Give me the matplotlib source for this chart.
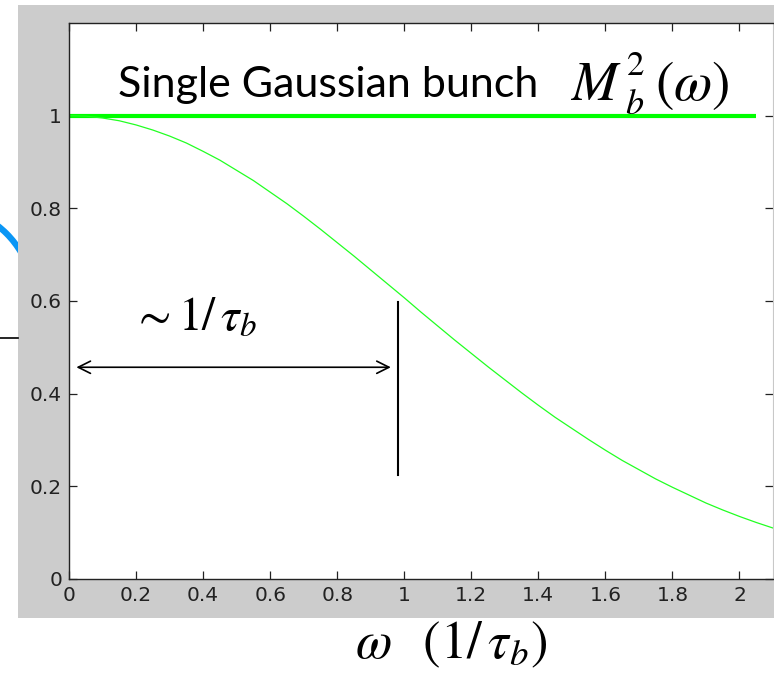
import matplotlib
matplotlib.use("Agg")
import matplotlib.pyplot as plt
from matplotlib.patches import Rectangle, Arc

# form factor of a single gaussian bunch
omega = [0.00, 0.05, 0.10, 0.15, 0.20, 0.25, 0.30, 0.35, 0.40, 0.45, 0.50,
         0.55, 0.60, 0.65, 0.70, 0.75, 0.80, 0.85, 0.90, 0.95, 1.00,
         1.05, 1.10, 1.15, 1.20, 1.25, 1.30, 1.35, 1.40, 1.45, 1.50,
         1.55, 1.60, 1.65, 1.70, 1.75, 1.80, 1.85, 1.90, 1.95, 2.00,
         2.05, 2.10]
m2 = [1.000, 0.999, 0.995, 0.989, 0.980, 0.969, 0.956, 0.941, 0.923, 0.904, 0.882,
      0.860, 0.835, 0.810, 0.783, 0.755, 0.726, 0.697, 0.667, 0.637, 0.607,
      0.576, 0.546, 0.516, 0.487, 0.458, 0.430, 0.402, 0.375, 0.349, 0.325,
      0.301, 0.278, 0.256, 0.236, 0.216, 0.198, 0.181, 0.164, 0.149, 0.135,
      0.122, 0.110]

# the flat line (point-like bunch)
flat_x = [0.0, 2.05]
flat_y = [1.0, 1.0]

xticks = [0, 0.2, 0.4, 0.6, 0.8, 1, 1.2, 1.4, 1.6, 1.8, 2]
xticklabels = ['0', '0.2', '0.4', '0.6', '0.8', '1', '1.2', '1.4', '1.6', '1.8', '2']
yticks = [0, 0.2, 0.4, 0.6, 0.8, 1]
yticklabels = ['0', '0.2', '0.4', '0.6', '0.8', '1']

plt.rcParams['mathtext.fontset'] = 'stix'

fig = plt.figure(figsize=(7.74, 6.76), dpi=100)
fig.patch.set_facecolor('white')

# slide background bits, in pixel coordinates
bg = fig.add_axes([0, 0, 1, 1], zorder=0)
bg.set_xlim(0, 774)
bg.set_ylim(676, 0)
bg.axis('off')
bg.add_patch(Arc((-60, 300), 188, 188, theta1=-75, theta2=-15,
                 color='#0a96f5', lw=4.5))
bg.plot([0, 18], [338, 338], color='black', lw=1.2)
bg.add_patch(Rectangle((18, 5), 760, 613, facecolor='#cccccc', edgecolor='none'))
px = bg.transData

ax = fig.add_axes([69 / 774, 97 / 676, 704 / 774, 556 / 676], zorder=1)
ax.set_facecolor('white')
ax.plot(flat_x, flat_y, color='#00ff00', lw=3.0, solid_capstyle='butt')
ax.plot(omega, m2, color='#22ff22', lw=0.9)

ax.set_xlim(0, 2.1)
ax.set_ylim(0, 1.2)
ax.set_xticks(xticks)
ax.set_xticklabels(xticklabels)
ax.set_yticks(yticks)
ax.set_yticklabels(yticklabels)
ax.tick_params(direction='in', length=5.5, width=0.9, top=True, right=True,
               labelsize=14.5, labelcolor='#222222', color='#222222', pad=5)
for side in ['left', 'bottom', 'top']:
    ax.spines[side].set_color('#222222')
    ax.spines[side].set_linewidth(1.0)
ax.spines['right'].set_color('#c8c8c8')

# annotations (pixel positions on the slide)
ax.text(118, 97, 'Single Gaussian bunch', fontsize=31, family='Lato',
        va='baseline', ha='left', transform=px, clip_on=False)
ax.text(570, 100, r'$M$', fontsize=40, va='baseline', ha='left', transform=px, clip_on=False)
ax.text(626, 75, r'$2$', fontsize=25, va='baseline', ha='left', transform=px, clip_on=False)
ax.text(625, 114, r'$b$', fontsize=26, va='baseline', ha='left', transform=px, clip_on=False)
ax.text(655, 100, r'$(\omega)$', fontsize=40, va='baseline', ha='left', transform=px, clip_on=False)

ax.text(132, 330, r'$\sim 1/\,\tau_b$', fontsize=34, va='baseline', ha='left',
        transform=px, clip_on=False)
ax.annotate('', xy=(0.022, 0.457), xytext=(0.960, 0.457),
            arrowprops=dict(arrowstyle='<->', color='black', lw=1.2,
                            mutation_scale=22, shrinkA=0, shrinkB=0))
ax.plot([0.982, 0.982], [0.224, 0.597], color='black', lw=1.5)

ax.text(355, 658, r'$\omega\;\;\;(1/\,\tau_b)$', fontsize=38, va='baseline',
        ha='left', transform=px, clip_on=False)

fig.savefig('out.png', dpi=100, facecolor='white')
